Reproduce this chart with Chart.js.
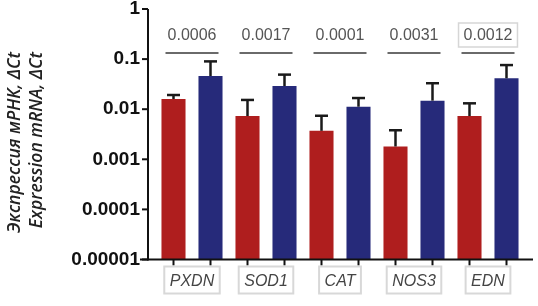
<!DOCTYPE html>
<html>
<head>
<meta charset="utf-8">
<script src="https://cdn.jsdelivr.net/npm/chart.js@4"></script>
<style>
	html, body { margin:0; padding:0; background:#fff; }
	#wrap { position:relative; width:538px; height:306px; }
</style>
</head>
<body>
<div id="wrap"><canvas id="c"></canvas></div>
<script>
const genes = ['PXDN', 'SOD1', 'CAT', 'NOS3', 'EDN'];
const redMean = [0.016, 0.0073, 0.0037, 0.0018, 0.0073];
const redUpper = [0.0192, 0.0153, 0.0074, 0.0038, 0.0131];
const blueMean = [0.046, 0.029, 0.0112, 0.0148, 0.0414];
const blueUpper = [0.09, 0.049, 0.0167, 0.033, 0.076];
const pValues = ['0.0006', '0.0017', '0.0001', '0.0031', '0.0012'];
const boxedP = [false, false, false, false, true];
const yTicks = [0.00001, 0.0001, 0.001, 0.01, 0.1, 1];
const yTickLabels = ['0.00001', '0.0001', '0.001', '0.01', '0.1', '1'];
const yTitle = ['Экспрессия мРНК, ΔCt', 'Expression mRNA, ΔCt'];

const warna = ['#AF1E1E', '#262A7A'];

const line = (ctx, x1, y1, x2, y2) => { ctx.beginPath(); ctx.moveTo(x1, y1); ctx.lineTo(x2, y2); ctx.stroke() }

const extras = {
	id: 'extras',
	afterDatasetsDraw(c) {
		const { ctx, scales: { y } } = c
		ctx.save()
		ctx.strokeStyle = '#1a1a1a'
		ctx.lineWidth = 2.5
		;[redUpper, blueUpper].forEach((up, d) => c.getDatasetMeta(d).data.forEach((b, i) => {
			const top = y.getPixelForValue(up[i])
			line(ctx, b.x, b.y, b.x, top)
			line(ctx, b.x - 6.5, top, b.x + 6.5, top)
		}))
		ctx.restore()
	},
	afterDraw(c) {
		const { ctx, chartArea: ca, scales: { x, y } } = c
		const ax = ca.left - 7
		ctx.save()
		// axes
		ctx.strokeStyle = '#111'
		ctx.lineWidth = 2
		line(ctx, ax, ca.top, ax, ca.bottom + 1)
		line(ctx, ax - 8, ca.bottom, ca.right + 8, ca.bottom)
		yTicks.forEach(v => { const py = y.getPixelForValue(v); line(ctx, ax - 6, py, ax, py) })
		;[0, 1].forEach(d => c.getDatasetMeta(d).data.forEach(b => line(ctx, b.x, ca.bottom, b.x, ca.bottom + 6)))

		// p-values with lines
		const r = c.getDatasetMeta(0).data, bl = c.getDatasetMeta(1).data
		ctx.font = '16px "Liberation Sans", Arial, sans-serif'
		ctx.textAlign = 'center'
		ctx.textBaseline = 'middle'
		pValues.forEach((p, i) => {
			const cx = (r[i].x + bl[i].x) / 2
			ctx.strokeStyle = '#6a6a6a'
			ctx.lineWidth = 2
			line(ctx, r[i].x - 8, ca.top + 44, bl[i].x + 8, ca.top + 44)
			ctx.fillStyle = '#555'
			ctx.fillText(p, cx, ca.top + 27)
			if (boxedP[i]) {
				const w = ctx.measureText(p).width + 10
				ctx.strokeStyle = '#d6d6d6'
				ctx.lineWidth = 1.5
				ctx.strokeRect(cx - w / 2, ca.top + 14, w, 24)
			}
		})

		// gene label boxes
		ctx.font = 'italic 16px "Liberation Sans", Arial, sans-serif'
		ctx.strokeStyle = '#d8d8d8'
		ctx.lineWidth = 2
		genes.forEach((g, i) => {
			const cx = x.getPixelForTick(i)
			const w = ctx.measureText(g).width + 11
			ctx.strokeRect(cx - w / 2, ca.bottom + 7, w, 27)
		})

		// y title, two lines ending at same height
		ctx.font = 'italic 600 15px "Open Sans", sans-serif'
		const fs = 15 * 181 / ctx.measureText(yTitle[0]).width
		ctx.font = `italic 600 ${fs}px "Open Sans", sans-serif`
		ctx.fillStyle = '#222'
		ctx.textAlign = 'right'
		ctx.textBaseline = 'middle'
		yTitle.forEach((t, i) => {
			ctx.save()
			ctx.translate(15 + i * 22, ca.top + 43)
			ctx.rotate(-Math.PI / 2)
			ctx.fillText(t, 0, 0)
			ctx.restore()
		})
		ctx.restore()
	}
}

new Chart(document.getElementById('c'), {
	type: 'bar',
	data: {
		labels: genes,
		datasets: [
			{ label: 'A', data: redMean, backgroundColor: warna[0] },
			{ label: 'B', data: blueMean, backgroundColor: warna[1] },
		]
	},
	options: {
		responsive: true,
		maintainAspectRatio: false,
		animation: false,
		layout: { padding: { top: 9, right: 13, left: 0, bottom: 0 } },
		datasets: { bar: { categoryPercentage: 1, barPercentage: 0.65 } },
		plugins: { legend: { display: false }, tooltip: { enabled: false } },
		scales: {
			x: {
				grid: { display: false, drawTicks: false },
				border: { display: false },
				ticks: {
					color: '#444',
					padding: 12,
					font: { family: '"Liberation Sans", Arial, sans-serif', size: 16, style: 'italic' }
				},
				afterFit: s => { s.height = 46.5; s.paddingLeft = 0; s.paddingRight = 0 }
			},
			y: {
				type: 'logarithmic',
				min: 0.00001,
				max: 1,
				grid: { display: false, drawTicks: false },
				border: { display: false },
				afterBuildTicks: s => { s.ticks = yTicks.map(v => ({ value: v })) },
				afterFit: s => { s.width = 155; s.paddingTop = 0; s.paddingBottom = 0 },
				ticks: {
					color: '#111',
					padding: 15,
					font: { family: '"Liberation Sans", Arial, sans-serif', size: 19, weight: 'bold' },
					callback: v => yTickLabels[yTicks.indexOf(v)]
				}
			}
		}
	},
	plugins: [extras]
})
</script>
</body>
</html>
